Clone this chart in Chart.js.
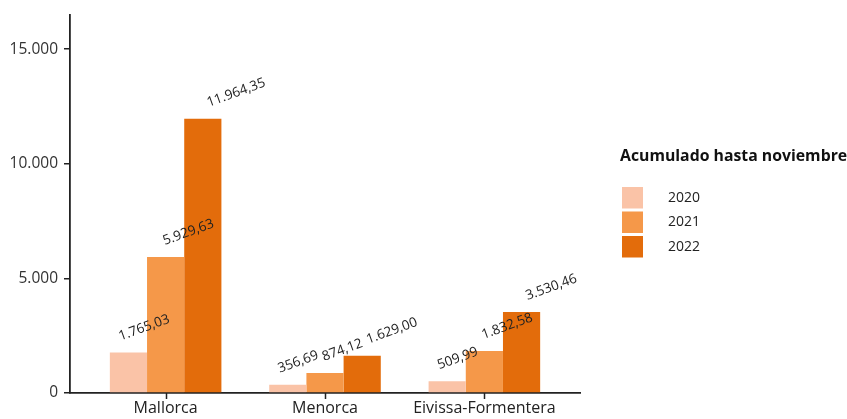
<!DOCTYPE html>
<html>
<head>
<meta charset="utf-8">
<script src="https://cdn.jsdelivr.net/npm/chart.js@4/dist/chart.umd.min.js"></script>
<style>
  body { margin: 0; background: #fff; }
  #wrap { width: 847px; height: 419px; }
</style>
</head>
<body>
<div id="wrap"><canvas id="myChart"></canvas></div>
<script>
const categories = ['Mallorca', 'Menorca', 'Eivissa-Formentera'];
const years = ['2020', '2021', '2022'];
const values2020 = [1765.03, 356.69, 509.99];
const values2021 = [5929.63, 874.12, 1832.58];
const values2022 = [11964.35, 1629.00, 3530.46];
const yTicks = [0, 5000, 10000, 15000];
const legendTitle = 'Acumulado hasta noviembre';

const colors = ['#FAC3A7', '#F59849', '#E36C0B'];
const labelShift = [-8, -1, 6];//small per-year shift of the value labels

const fmtVal = new Intl.NumberFormat('de-DE', { minimumFractionDigits: 2, maximumFractionDigits: 2 });
function tickText(v) {
  // grouping done by hand so 5000 also gets its dot
  return Math.round(v).toString().replace(/\B(?=(\d{3})+(?!\d))/g, '.');
}

const allValues = [values2020, values2021, values2022];
const datasets = allValues.map((vals, s) => ({
  label: years[s],
  data: categories.map((c, i) => ({ x: i + 1, y: vals[i] })),
  backgroundColor: colors[s],
  borderWidth: 0,
  categoryPercentage: 0.7,
  barPercentage: 1
}));

const valueLabels = {
  id: 'valueLabels',
  afterDatasetsDraw(chart) {
    const ctx = chart.ctx;
    ctx.save();
    ctx.font = '13.5px "Open Sans", "Noto Sans", sans-serif';
    ctx.fillStyle = '#222';
    ctx.textAlign = 'left';
    ctx.textBaseline = 'alphabetic';
    chart.data.datasets.forEach((ds, s) => {
      chart.getDatasetMeta(s).data.forEach((bar, i) => {
        ctx.save();
        ctx.translate(bar.x + labelShift[s], bar.y - 12);
        ctx.rotate(-20 * Math.PI / 180);
        ctx.fillText(fmtVal.format(ds.data[i].y), 0, 0);
        ctx.restore();
      });
    });
    ctx.restore();
  }
};

// tick marks under the category names, placed with the x scale
const xTickMarks = {
  id: 'xTickMarks',
  afterDraw(chart) {
    const ctx = chart.ctx;
    const sx = chart.scales.x;
    const y0 = chart.chartArea.bottom;
    ctx.save();
    ctx.strokeStyle = '#222';
    ctx.lineWidth = 1.5;
    categories.forEach((c, i) => {
      const px = Math.round(sx.getPixelForValue(i + 1)) + 0.5;
      ctx.beginPath();
      ctx.moveTo(px, y0);
      ctx.lineTo(px, y0 + 6);
      ctx.stroke();
    });
    ctx.restore();
  }
};

const legendBox = {
  id: 'legendBox',
  afterDraw(chart) {
    const ctx = chart.ctx;
    ctx.save();
    ctx.fillStyle = '#111';
    ctx.font = 'bold 15.8px "Open Sans", "Noto Sans", sans-serif';
    ctx.textAlign = 'left';
    ctx.textBaseline = 'middle';
    ctx.fillText(legendTitle, 620, 156);
    ctx.font = '14px "Open Sans", "Noto Sans", sans-serif';
    years.forEach((y, s) => {
      const top = 187 + s * 24.5;
      ctx.fillStyle = colors[s];
      ctx.fillRect(622, top, 21, 21.5);
      ctx.fillStyle = '#222';
      ctx.fillText(y, 668, top + 11);
    });
    ctx.restore();
  }
};

const ctx = document.getElementById('myChart');
let myChart = new Chart(ctx, {
  type: 'bar',
  data: { datasets: datasets },
  options: {
    responsive: true,
    maintainAspectRatio: false,
    animation: false,
    layout: { padding: { top: 14, right: 267, left: 0, bottom: 0 } },
    plugins: { legend: { display: false }, tooltip: { enabled: false } },
    scales: {
      x: {
        type: 'linear',
        offset: false,
        min: 0.4,
        max: 3.6,
        afterBuildTicks: (scale) => { scale.ticks = categories.map((c, i) => ({ value: i + 1 })); },
        afterFit: (scale) => { scale.height = 26; },
        grid: { display: false, tickLength: 6 },
        border: { display: true, color: '#222', width: 1.8 },
        ticks: {
          color: '#222',
          padding: 0,
          font: { size: 16, family: '"Open Sans", "Noto Sans", sans-serif' },
          callback: (v) => categories[Math.round(v) - 1],
          maxRotation: 0,
          autoSkip: false
        }
      },
      y: {
        min: 0,
        max: 16480,
        afterBuildTicks: (scale) => { scale.ticks = yTicks.map(v => ({ value: v })); },
        afterFit: (scale) => { scale.width = 70; },
        grid: { drawOnChartArea: false, drawTicks: true, tickLength: 6, color: '#222', lineWidth: 1.5 },
        border: { display: true, color: '#222', width: 1.8 },
        ticks: {
          color: '#333',
          padding: 6,
          font: { size: 15.5, family: '"Open Sans", "Noto Sans", sans-serif' },
          callback: (v) => tickText(v)
        }
      }
    }
  },
  plugins: [valueLabels, xTickMarks, legendBox]
});
</script>
</body>
</html>
